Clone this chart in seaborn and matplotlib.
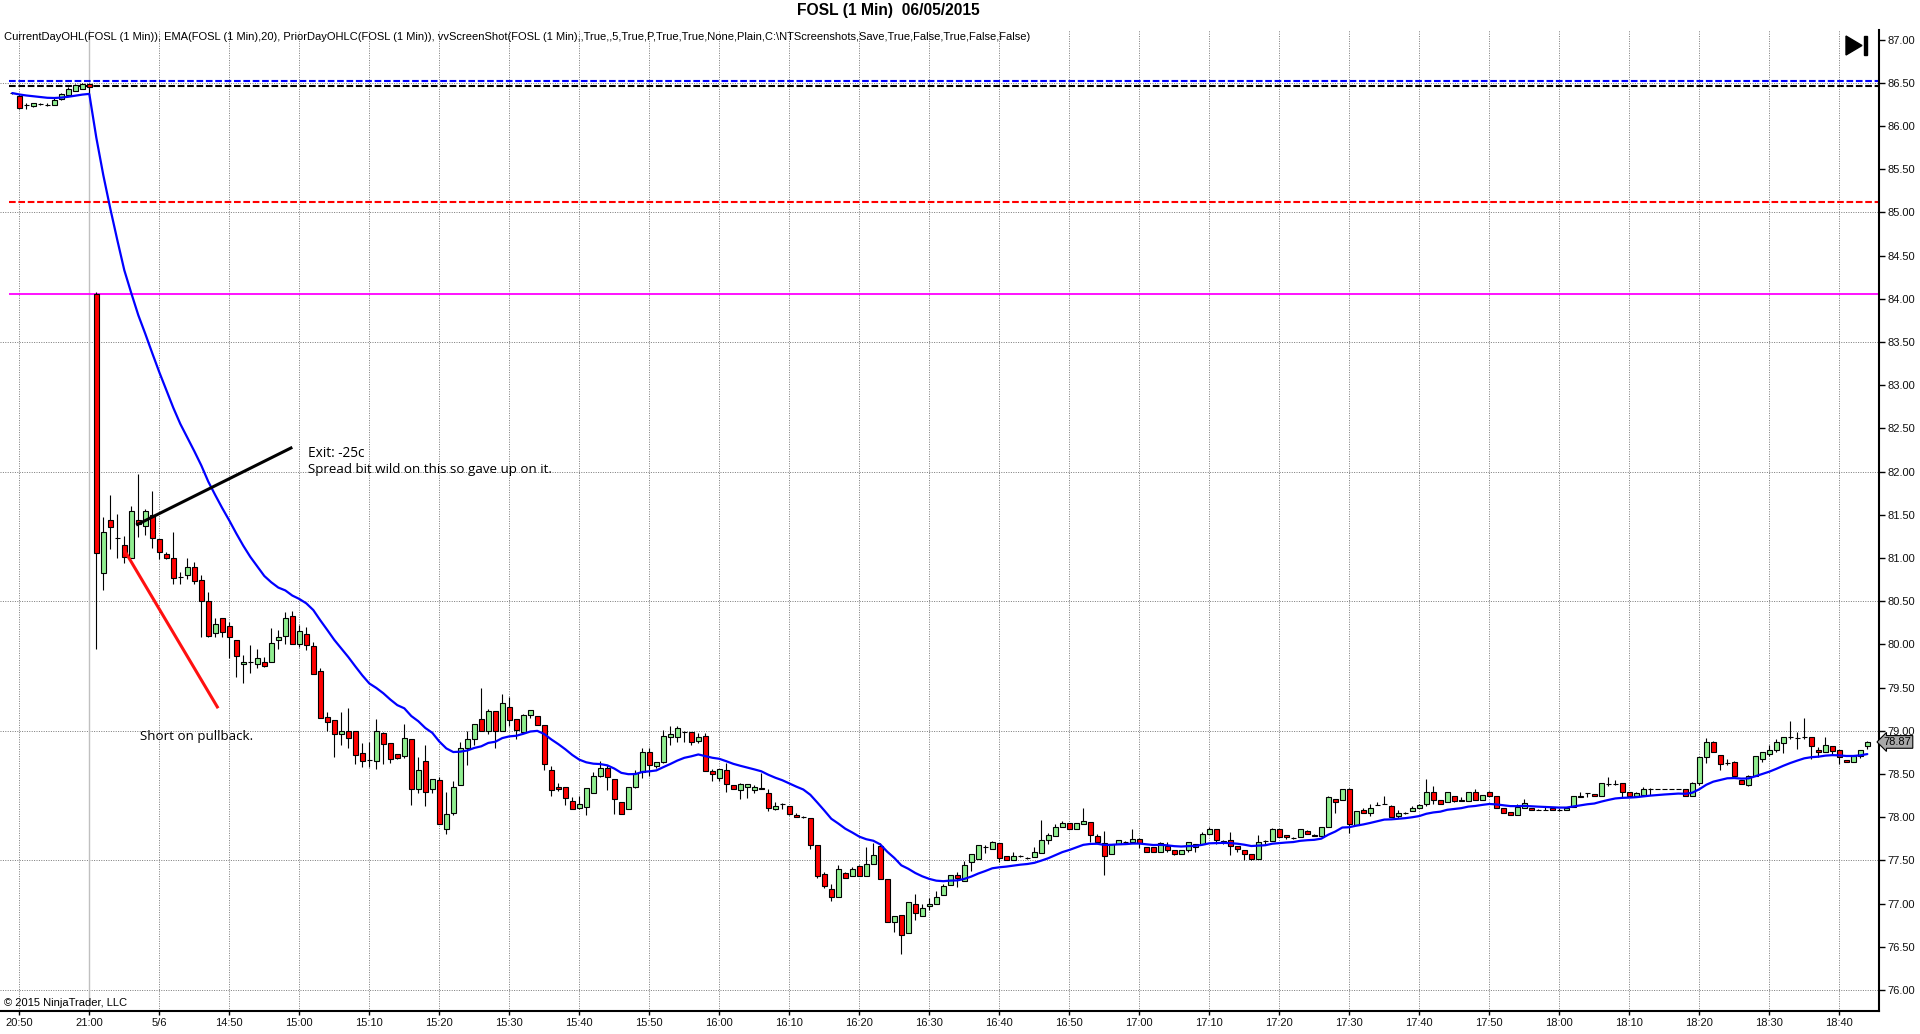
import numpy as np
import pandas as pd
import matplotlib
matplotlib.use("Agg")
import matplotlib.pyplot as plt
from matplotlib.patches import Polygon, Rectangle
import matplotlib.transforms as mtransforms
import seaborn as sns

# ---------------- data ----------------
first_bar = -1  # index of first bar (20:49 of prior session)
opens = [86.38, 86.35, 86.24, 86.23, 86.25, 86.24, 86.24, 86.31, 86.36, 86.40, 86.43, 86.48,
         84.05, 80.83, 81.44, 81.23, 81.15, 81.00, 81.44, 81.37, 81.50, 81.22, 81.05, 81.00,
         80.78, 80.80, 80.90, 80.75, 80.50, 80.13, 80.30, 80.21, 80.05, 79.77, 79.79, 79.77,
         79.80, 79.79, 80.05, 80.10, 80.33, 80.00, 80.12, 79.98, 79.69, 79.16, 79.12, 78.96,
         79.00, 79.00, 78.74, 78.66, 78.65, 78.97, 78.86, 78.73, 78.71, 78.90, 78.32, 78.65,
         78.32, 78.43, 77.86, 78.05, 78.37, 78.80, 78.90, 79.13, 79.00, 79.23, 79.00, 79.28,
         79.13, 78.99, 79.18, 79.17, 79.07, 78.55, 78.35, 78.35, 78.19, 78.11, 78.12, 78.28,
         78.47, 78.57, 78.44, 78.17, 78.09, 78.35, 78.52, 78.75, 78.59, 78.64, 78.93, 78.93,
         78.99, 78.99, 78.88, 78.94, 78.53, 78.45, 78.54, 78.37, 78.31, 78.35, 78.31, 78.34,
         78.28, 78.09, 78.15, 78.13, 78.03, 78.00, 77.99, 77.68, 77.34, 77.17, 77.07, 77.35,
         77.32, 77.43, 77.32, 77.46, 77.67, 77.28, 76.79, 76.87, 76.66, 77.00, 76.85, 76.97,
         77.00, 77.10, 77.21, 77.33, 77.26, 77.48, 77.52, 77.65, 77.63, 77.70, 77.55, 77.50,
         77.55, 77.53, 77.54, 77.58, 77.74, 77.78, 77.89, 77.93, 77.86, 77.92, 77.94, 77.78,
         77.70, 77.57, 77.69, 77.71, 77.71, 77.75, 77.65, 77.65, 77.60, 77.66, 77.62, 77.57,
         77.62, 77.65, 77.69, 77.80, 77.86, 77.71, 77.73, 77.67, 77.62, 77.57, 77.51, 77.72,
         77.72, 77.86, 77.79, 77.76, 77.77, 77.84, 77.79, 77.78, 77.88, 78.21, 78.20, 78.32,
         77.91, 78.08, 78.05, 78.14, 78.15, 78.13, 78.01, 78.05, 78.07, 78.10, 78.15, 78.29,
         78.20, 78.17, 78.25, 78.20, 78.19, 78.29, 78.20, 78.29, 78.25, 78.10, 78.06, 78.03,
         78.11, 78.11, 78.08, 78.08, 78.11, 78.08, 78.08, 78.12, 78.23, 78.28, 78.27, 78.24,
         78.38, 78.38, 78.39, 78.29, 78.25, 78.26, 78.33, 78.32, 78.32, 78.32, 78.32, 78.33,
         78.25, 78.40, 78.70, 78.87, 78.72, 78.63, 78.64, 78.43, 78.37, 78.47, 78.67, 78.73,
         78.78, 78.86, 78.93, 78.92, 78.93, 78.93, 78.78, 78.75, 78.82, 78.78, 78.66, 78.64,
         78.71, 78.82]
highs = [86.39, 86.37, 86.27, 86.27, 86.27, 86.26, 86.32, 86.38, 86.45, 86.49, 86.50, 86.50,
         84.08, 81.47, 81.73, 81.51, 81.25, 81.60, 81.97, 81.57, 81.78, 81.22, 81.07, 81.30,
         80.84, 81.00, 80.95, 80.80, 80.61, 80.31, 80.30, 80.26, 80.05, 79.88, 79.99, 79.94,
         79.85, 80.19, 80.17, 80.37, 80.38, 80.22, 80.20, 80.03, 79.72, 79.22, 79.12, 79.22,
         79.26, 79.00, 78.86, 78.87, 79.13, 78.98, 78.86, 78.73, 79.08, 78.90, 78.70, 78.84,
         78.44, 78.46, 78.29, 78.42, 78.87, 79.00, 79.08, 79.50, 79.25, 79.23, 79.43, 79.39,
         79.14, 79.19, 79.24, 79.17, 79.07, 78.59, 78.39, 78.35, 78.23, 78.24, 78.34, 78.52,
         78.65, 78.60, 78.44, 78.17, 78.35, 78.54, 78.80, 78.80, 78.64, 79.01, 79.06, 79.06,
         79.00, 78.99, 78.97, 78.97, 78.56, 78.56, 78.63, 78.37, 78.40, 78.38, 78.37, 78.51,
         78.32, 78.18, 78.16, 78.13, 78.05, 78.01, 77.99, 77.68, 77.37, 77.22, 77.45, 77.37,
         77.42, 77.45, 77.65, 77.70, 77.70, 77.28, 76.85, 76.87, 77.02, 77.11, 76.99, 77.06,
         77.14, 77.22, 77.33, 77.37, 77.49, 77.57, 77.68, 77.68, 77.72, 77.70, 77.55, 77.60,
         77.56, 77.54, 77.65, 77.97, 77.82, 77.92, 77.96, 77.93, 77.93, 78.11, 77.94, 77.80,
         77.84, 77.69, 77.74, 77.72, 77.86, 77.76, 77.65, 77.65, 77.71, 77.71, 77.62, 77.62,
         77.71, 77.69, 77.83, 77.89, 77.86, 77.73, 77.83, 77.67, 77.62, 77.57, 77.79, 77.73,
         77.87, 77.86, 77.79, 77.77, 77.86, 77.85, 77.80, 77.88, 78.25, 78.21, 78.32, 78.34,
         78.07, 78.10, 78.15, 78.17, 78.24, 78.14, 78.08, 78.06, 78.13, 78.15, 78.44, 78.36,
         78.20, 78.29, 78.25, 78.23, 78.29, 78.33, 78.26, 78.30, 78.25, 78.10, 78.06, 78.15,
         78.21, 78.11, 78.09, 78.13, 78.11, 78.11, 78.11, 78.24, 78.29, 78.28, 78.27, 78.39,
         78.46, 78.43, 78.39, 78.29, 78.29, 78.35, 78.34, 78.32, 78.32, 78.32, 78.32, 78.33,
         78.41, 78.70, 78.92, 78.88, 78.72, 78.67, 78.65, 78.43, 78.49, 78.71, 78.75, 78.84,
         78.90, 78.93, 79.11, 78.99, 79.15, 78.93, 78.81, 78.93, 78.82, 78.78, 78.66, 78.71,
         78.78, 78.88]
lows = [86.37, 86.20, 86.19, 86.22, 86.24, 86.23, 86.24, 86.30, 86.36, 86.40, 86.43, 86.38,
        79.94, 80.63, 81.10, 81.00, 80.94, 81.00, 81.24, 81.26, 81.11, 80.99, 80.99, 80.70,
        80.70, 80.76, 80.70, 80.08, 80.08, 80.09, 80.09, 79.84, 79.62, 79.55, 79.67, 79.72,
        79.74, 79.79, 79.95, 80.00, 80.00, 79.97, 79.93, 79.66, 79.15, 79.00, 78.70, 78.84,
        78.80, 78.62, 78.58, 78.58, 78.56, 78.62, 78.63, 78.67, 78.68, 78.14, 78.28, 78.13,
        78.28, 77.92, 77.81, 78.02, 78.37, 78.60, 78.83, 79.00, 78.96, 78.80, 79.00, 79.06,
        78.90, 78.99, 79.15, 79.07, 78.55, 78.25, 78.30, 78.14, 78.09, 78.09, 78.03, 78.28,
        78.46, 78.31, 78.04, 78.04, 78.09, 78.34, 78.45, 78.48, 78.57, 78.63, 78.83, 78.87,
        78.87, 78.83, 78.86, 78.53, 78.42, 78.42, 78.29, 78.33, 78.21, 78.22, 78.28, 78.32,
        78.07, 78.08, 78.09, 78.03, 78.00, 77.99, 77.63, 77.30, 77.18, 77.03, 77.07, 77.30,
        77.32, 77.32, 77.32, 77.46, 77.28, 76.79, 76.67, 76.42, 76.66, 76.81, 76.85, 76.92,
        77.00, 77.10, 77.21, 77.19, 77.26, 77.38, 77.52, 77.58, 77.63, 77.48, 77.50, 77.50,
        77.54, 77.52, 77.54, 77.58, 77.69, 77.78, 77.89, 77.86, 77.86, 77.92, 77.71, 77.71,
        77.33, 77.57, 77.69, 77.70, 77.71, 77.64, 77.60, 77.60, 77.60, 77.60, 77.56, 77.57,
        77.60, 77.60, 77.69, 77.80, 77.69, 77.69, 77.56, 77.60, 77.50, 77.50, 77.51, 77.69,
        77.72, 77.77, 77.75, 77.75, 77.77, 77.80, 77.78, 77.78, 77.88, 78.05, 78.20, 77.82,
        77.91, 78.05, 78.01, 78.14, 78.15, 78.00, 77.99, 78.04, 78.07, 78.10, 78.13, 78.15,
        78.15, 78.17, 78.17, 78.19, 78.19, 78.20, 78.20, 78.25, 78.10, 78.05, 78.03, 78.03,
        78.11, 78.08, 78.08, 78.08, 78.08, 78.07, 78.08, 78.12, 78.23, 78.23, 78.24, 78.24,
        78.36, 78.37, 78.23, 78.25, 78.25, 78.26, 78.26, 78.32, 78.32, 78.32, 78.32, 78.24,
        78.25, 78.37, 78.63, 78.75, 78.55, 78.60, 78.48, 78.38, 78.36, 78.47, 78.64, 78.71,
        78.75, 78.74, 78.90, 78.79, 78.90, 78.67, 78.70, 78.75, 78.73, 78.62, 78.64, 78.64,
        78.68, 78.79]
closes = [86.38, 86.21, 86.24, 86.26, 86.25, 86.24, 86.30, 86.37, 86.43, 86.47, 86.48, 86.45,
          81.06, 81.30, 81.36, 81.23, 81.01, 81.54, 81.39, 81.54, 81.23, 81.07, 81.00, 80.77,
          80.78, 80.90, 80.73, 80.50, 80.10, 80.24, 80.14, 80.08, 79.86, 79.79, 79.79, 79.84,
          79.75, 80.02, 80.08, 80.31, 80.00, 80.15, 79.99, 79.66, 79.15, 79.10, 78.96, 79.00,
          78.92, 78.72, 78.65, 78.66, 79.00, 78.85, 78.67, 78.68, 78.91, 78.32, 78.54, 78.29,
          78.44, 77.92, 78.04, 78.35, 78.80, 78.90, 79.08, 79.00, 79.23, 79.00, 79.32, 79.12,
          79.01, 79.18, 79.24, 79.07, 78.61, 78.31, 78.33, 78.22, 78.09, 78.15, 78.34, 78.47,
          78.57, 78.46, 78.21, 78.04, 78.35, 78.51, 78.75, 78.60, 78.64, 78.94, 78.96, 79.03,
          78.99, 78.87, 78.93, 78.53, 78.50, 78.56, 78.38, 78.33, 78.38, 78.38, 78.35, 78.32,
          78.11, 78.13, 78.15, 78.04, 78.00, 78.00, 77.68, 77.32, 77.20, 77.07, 77.40, 77.30,
          77.40, 77.32, 77.46, 77.56, 77.28, 76.79, 76.85, 76.63, 77.02, 76.89, 76.95, 77.00,
          77.07, 77.20, 77.33, 77.29, 77.45, 77.57, 77.68, 77.65, 77.71, 77.53, 77.50, 77.55,
          77.55, 77.53, 77.60, 77.74, 77.79, 77.89, 77.93, 77.86, 77.93, 77.96, 77.79, 77.71,
          77.55, 77.69, 77.74, 77.71, 77.75, 77.70, 77.60, 77.60, 77.70, 77.62, 77.57, 77.62,
          77.71, 77.69, 77.80, 77.86, 77.73, 77.72, 77.67, 77.63, 77.57, 77.52, 77.71, 77.72,
          77.86, 77.77, 77.77, 77.76, 77.86, 77.80, 77.78, 77.88, 78.23, 78.18, 78.32, 77.92,
          78.07, 78.05, 78.10, 78.14, 78.15, 78.00, 78.05, 78.05, 78.10, 78.14, 78.29, 78.20,
          78.15, 78.29, 78.19, 78.19, 78.29, 78.20, 78.26, 78.25, 78.10, 78.05, 78.03, 78.12,
          78.16, 78.08, 78.08, 78.08, 78.08, 78.08, 78.11, 78.24, 78.25, 78.28, 78.24, 78.39,
          78.38, 78.38, 78.29, 78.25, 78.28, 78.33, 78.33, 78.32, 78.32, 78.32, 78.32, 78.25,
          78.40, 78.70, 78.87, 78.75, 78.62, 78.63, 78.48, 78.38, 78.47, 78.71, 78.75, 78.78,
          78.87, 78.93, 78.93, 78.92, 78.93, 78.82, 78.75, 78.83, 78.77, 78.69, 78.64, 78.71,
          78.78, 78.87]

ema_period = 20
tick_labels = ["20:50", "21:00", "5/6", "14:50", "15:00", "15:10", "15:20", "15:30", "15:40",
               "15:50", "16:00", "16:10", "16:20", "16:30", "16:40", "16:50", "17:00", "17:10",
               "17:20", "17:30", "17:40", "17:50", "18:00", "18:10", "18:20", "18:30", "18:40"]
tick_step = 10
session_break_bar = 10

# horizontal indicator levels (CurrentDayOHL / PriorDayOHLC)
level_values = [86.52, 86.46, 85.12, 84.05]
level_colors = ["#0000FF", "#000000", "#FF0000", "#FF00FF"]
level_styles = ["dashed", "dashed", "dashed", "solid"]

# hand-drawn annotations (bar index, price)
exit_line_x = [16.7, 39.0]
exit_line_y = [81.38, 82.28]
short_line_x = [15.0, 28.4]
short_line_y = [81.09, 79.26]
exit_text_pos = (41.2, 82.21)
spread_text_pos = (41.2, 82.02)
short_text_pos = (17.2, 78.93)

title_text = "FOSL (1 Min)  06/05/2015"
indicator_text = ("CurrentDayOHL(FOSL (1 Min)), EMA(FOSL (1 Min),20), PriorDayOHLC(FOSL (1 Min)), "
                  "vvScreenShot(FOSL (1 Min),,True,,5,True,P,True,True,None,Plain,C:\\NTScreenshots,"
                  "Save,True,False,True,False,False)")
copyright_text = "\u00a9 2015 NinjaTrader, LLC"

# ---------------- derived ----------------
bar_x = np.arange(first_bar, first_bar + len(closes))
df = pd.DataFrame({"x": bar_x, "open": opens, "high": highs, "low": lows, "close": closes})
df["ema"] = df["close"].ewm(span=ema_period, adjust=False).mean()
tick_pos = np.arange(0, tick_step * len(tick_labels), tick_step)

# ---------------- layout ----------------
W, H = 1920, 1034
x0_px, px_per_bar = 19.3, 7.0          # bar index -> pixel
y87_px, px_per_unit = 39.5, 86.4       # price -> pixel (from top)
ax_left_px, ax_right_px, ax_top_px, ax_bot_px = 0, 1879, 30, 1011

sns.set_theme(style="white")
plt.rcParams['font.family'] = ['Liberation Sans', 'DejaVu Sans']

fig = plt.figure(figsize=(W / 100, H / 100), dpi=100)
fig.patch.set_facecolor("white")
ax = fig.add_axes([ax_left_px / W, 1 - ax_bot_px / H,
                   (ax_right_px - ax_left_px) / W, (ax_bot_px - ax_top_px) / H])
ax.set_facecolor("white")

xlim = ((ax_left_px - x0_px) / px_per_bar, (ax_right_px - x0_px) / px_per_bar)
ylim = (87 - (ax_bot_px - y87_px) / px_per_unit, 87 - (ax_top_px - y87_px) / px_per_unit)
ax.set_xlim(*xlim)
ax.set_ylim(*ylim)

# grid
grid_kw = dict(color="#7f7f7f", lw=0.72, linestyle=(0, (1, 1.4)), zorder=0.5)
for gy in np.arange(76.0, 87.01, 1.5):
    ax.axhline(gy, **grid_kw)
for gx in tick_pos:
    if gx != session_break_bar:
        ax.axvline(gx, **grid_kw)
ax.axvline(session_break_bar, color="#c0c0c0", lw=1.0, zorder=0.6)

# level lines
for val, col, sty in zip(level_values, level_colors, level_styles):
    if sty == "dashed":
        ax.hlines(val, first_bar - 0.4, xlim[1], colors=col, lw=1.5,
                  linestyles=[(0, (3.2, 1.3))], zorder=2)
    else:
        ax.hlines(val, first_bar - 0.4, xlim[1], colors=col, lw=1.3, zorder=2)

# candles
ax.vlines(df["x"], df["low"], df["high"], color="black", lw=0.8, zorder=3)
up = df["close"] >= df["open"]
body_colors = np.where(up, "#90EE90", "#FF0000")
ax.bar(df["x"], df["close"] - df["open"], bottom=df["open"], width=0.72,
       color=body_colors, edgecolor="black", linewidth=0.8, zorder=4)

# EMA
sns.lineplot(data=df, x="x", y="ema", ax=ax, color="#0000FF", linewidth=1.6,
             zorder=5, legend=False)

# annotations
ax.plot(exit_line_x, exit_line_y, color="black", lw=2.2, solid_capstyle="butt", zorder=6)
ax.plot(short_line_x, short_line_y, color="#FF1010", lw=2.2, solid_capstyle="butt", zorder=6)
ann_font = ["Open Sans", "DejaVu Sans"]
t_exit = ax.text(*exit_text_pos, "Exit: -25c", ha="left", va="center", fontsize=8.5,
                 family=ann_font, color="black", zorder=7)
t_spread = ax.text(*spread_text_pos, "Spread bit wild on this so gave up on it.", ha="left",
                   va="center", fontsize=8.5, family=ann_font, color="black", zorder=7)
t_short = ax.text(*short_text_pos, "Short on pullback.", ha="left", va="center", fontsize=8.5,
                  family=ann_font, color="black", zorder=7)

# axes styling
for s in ["left", "top"]:
    ax.spines[s].set_visible(False)
for s in ["right", "bottom"]:
    ax.spines[s].set_visible(True)
    ax.spines[s].set_color("black")
    ax.spines[s].set_linewidth(1.5)

ax.yaxis.tick_right()
yt = np.arange(76.0, 87.01, 0.5)
ax.set_yticks(yt)
ax.set_yticklabels([f"{v:.2f}" for v in yt])
ax.set_xticks(tick_pos)
ax.set_xticklabels(tick_labels)
ax.tick_params(axis="y", which="both", right=True, left=False, direction="out", length=4,
               width=1, color="black", labelsize=8, pad=2, labelcolor="#101010")
ax.tick_params(axis="x", which="both", bottom=True, direction="out", length=3,
               width=1, color="black", labelsize=8, pad=2, labelcolor="#101010")
ax.set_xlabel("")
ax.set_ylabel("")
ax.grid(False)

# last price marker
trans = mtransforms.blended_transform_factory(ax.transAxes, ax.transData)
ax.text(1.0025, closes[-1], f"{closes[-1]:.2f}", transform=trans, ha="left", va="center",
        fontsize=8, color="black", zorder=10, clip_on=False,
        bbox=dict(boxstyle="larrow,pad=0.12", fc="#a8a8a8", ec="black", lw=0.8))

# texts
t_title = fig.text(888.5 / W, 1 - 10 / H, title_text, ha="center", va="center",
                   fontsize=11, fontweight="bold", color="black")
t_ind = fig.text(3.5 / W, 1 - 37 / H, indicator_text, ha="left", va="center", fontsize=7.5,
                 color="black")
t_copy = fig.text(4 / W, 1 - 1003 / H, copyright_text, ha="left", va="center", fontsize=7.5,
                  color="black")

# play-to-end icon
tri = Polygon([[1846, H - 36], [1846, H - 55], [1862, H - 45.5]], closed=True,
              transform=None, fc="black", ec="black")
bar_icon = Rectangle((1864, H - 55), 3, 19, transform=None, fc="black", ec="black")
fig.add_artist(tri)
fig.add_artist(bar_icon)

# fit text widths to the reference
fig.canvas.draw()
renderer = fig.canvas.get_renderer()
for t, target in [(t_title, 183), (t_ind, 1021), (t_copy, 123), (t_exit, 56.5),
                  (t_spread, 242), (t_short, 112)]:
    w = t.get_window_extent(renderer).width
    t.set_fontsize(t.get_fontsize() * target / w)

fig.savefig("out.png", dpi=100, facecolor="white")
